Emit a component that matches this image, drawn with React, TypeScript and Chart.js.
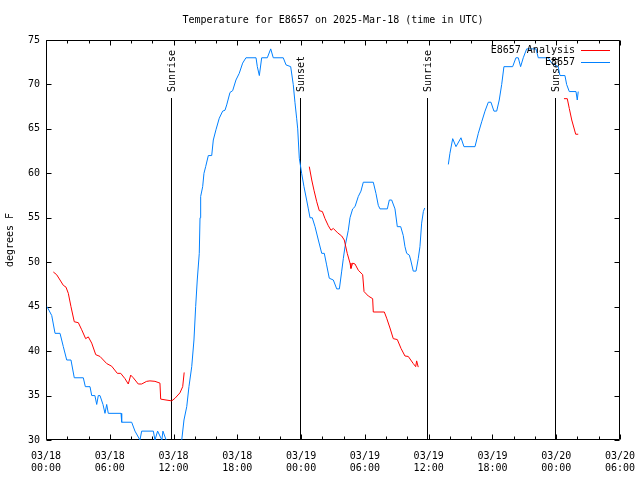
import React, { useEffect, useRef } from 'react';
import { Chart, registerables } from 'chart.js';

Chart.register(...registerables);

const FONT = '"DejaVu Sans Mono", "Liberation Mono", monospace';

const chartTitle = 'Temperature for E8657 on 2025-Mar-18 (time in UTC)';
const yAxisTitle = 'degrees F';

// x axis: hours since 03/18 00:00 UTC
const xTickHours = [0, 6, 12, 18, 24, 30, 36, 42, 48, 54];
const xTickDates = ['03/18', '03/18', '03/18', '03/18', '03/19', '03/19', '03/19', '03/19', '03/20', '03/20'];
const xTickTimes = ['00:00', '06:00', '12:00', '18:00', '00:00', '06:00', '12:00', '18:00', '00:00', '06:00'];
const yTicks = [30, 35, 40, 45, 50, 55, 60, 65, 70, 75];

const sunLabels = ['Sunrise', 'Sunset', 'Sunrise', 'Sunset'];
const sunHours = [11.8, 23.85, 35.84, 47.88];

const seriesNames = ['E8657 Analysis', 'E8657'];
const seriesColors = ['#ff0000', '#0080ff'];

// E8657 observations
const obsHours = [
  0.1, 0.54, 0.85, 1.32, 1.63, 1.95, 2.35, 2.66, 3.51, 3.7, 4.14, 4.3, 4.6, 4.77, 4.92, 5.08, 5.36, 5.55, 5.71, 5.86,
  7.06, 7.12, 8.06, 8.37, 8.84, 9.0, 10.1, 10.25, 10.5, 10.9, 11.0, 11.3, 11.6, 12.3, 12.77, 12.98, 13.24, 13.45, 13.71, 13.92,
  14.08, 14.23, 14.42, 14.49, 14.55, 14.74, 14.86, 15.02, 15.27, 15.59, 15.74, 15.99, 16.3, 16.62, 16.84, 17.0, 17.31, 17.56, 17.87, 18.18,
  18.5, 18.81, 19.76, 19.88, 20.07, 20.29, 20.82, 21.14, 21.38, 22.32, 22.58, 23.02, 23.26, 23.42, 23.58, 23.68, 23.83, 24.05, 24.27, 24.52,
  24.68, 24.84, 25.05, 25.31, 25.62, 25.94, 26.18, 26.4, 26.65, 27.03, 27.35, 27.6, 27.82, 27.97, 28.13, 28.44, 28.6, 28.85, 29.07, 29.38,
  29.63, 29.85, 30.79, 31.04, 31.26, 31.42, 32.11, 32.3, 32.52, 32.83, 33.05, 33.37, 33.61, 33.77, 33.93, 34.18, 34.31, 34.55, 34.81, 35.02,
  35.18, 35.34, 35.5, 35.63, 36.7, 37.85, 38.0, 38.26, 38.57, 39.04, 39.32, 40.36, 40.67, 40.99, 41.3, 41.61, 41.86, 42.14, 42.4, 42.64,
  42.87, 43.08, 43.9, 44.21, 44.43, 44.65, 44.9, 45.22, 46.1, 46.31, 47.25, 47.57, 48.19, 48.35, 48.82, 48.98, 49.23, 49.86, 49.98, 50.07,
];
const obsTemps = [
  45, 44, 42, 42, 40.5, 39, 39, 37, 37, 36, 36, 35, 35, 34, 35, 35, 34, 33, 34, 33,
  33, 32, 32, 31, 30, 31, 31, 30, 31, 30, 31, 30, 29, 28.5, 30, 32.25, 33.75, 36, 38.25, 41.25,
  45, 48, 51, 55, 57.4, 58.5, 60, 60.75, 62, 62, 63.75, 64.9, 66.2, 67, 67.1, 67.7, 69.1, 69.3, 70.5, 71.25,
  72.4, 73, 73, 72, 71, 73, 73, 74, 73, 73, 72.2, 72, 70, 68, 66.2, 65, 61.7, 60, 58.5, 57,
  56, 55, 55, 54, 52.5, 51, 51, 49.7, 48.2, 48, 47, 47, 49, 50.4, 51.75, 53.6, 55, 56, 56.25, 57.4,
  58, 59, 59, 57.75, 56.4, 56, 56, 57, 57, 56, 54, 54, 53, 51.75, 51, 50.8, 50.25, 49, 49, 50.4,
  51.75, 54.4, 55.7, 56.1, null, 61, 62.25, 63.9, 63, 64, 63, 63, 64.5, 65.8, 67, 68, 68, 67, 67, 68.25,
  70, 72, 72, 73, 73, 72, 73, 74, 74, 73, 73, 72.4, 72, 71, 71, 70, 69.2, 69.2, 68.25, 69.2,
];

// E8657 Analysis
const anaHours = [
  0.69, 1.0, 1.32, 1.63, 1.88, 2.1, 2.35, 2.66, 3.04, 3.36, 3.73, 3.98, 4.3, 4.68, 5.08, 5.71, 6.18, 6.71, 7.03, 7.43,
  7.74, 7.97, 8.21, 8.68, 9.0, 9.47, 9.78, 10.25, 10.72, 10.79, 11.29, 11.83, 12.14, 12.6, 12.86, 13.0, 18.0,
  24.77, 25.0, 25.21, 25.47, 25.71, 26.0, 26.25, 26.56, 26.81, 27.03, 27.44, 27.82, 28.06, 28.34, 28.6, 28.69, 28.85, 29.07, 29.38, 29.79,
  29.92, 30.32, 30.73, 30.79, 31.83, 32.05, 32.36, 32.67, 33.05, 33.4, 33.77, 34.08, 34.55, 34.78, 34.87, 35.02, 40.0,
  48.73, 49.04, 49.23, 49.46, 49.67, 49.83, 50.07,
];
const anaTemps = [
  48.9, 48.6, 48.0, 47.4, 47.2, 46.5, 45.0, 43.3, 43.2, 42.4, 41.4, 41.6, 40.9, 39.6, 39.4, 38.6, 38.3, 37.5, 37.5, 36.9,
  36.3, 37.3, 37.0, 36.3, 36.3, 36.6, 36.65, 36.6, 36.4, 34.6, 34.5, 34.4, 34.7, 35.3, 36.0, 37.6, null,
  60.75, 59.25, 58.1, 56.8, 55.8, 55.7, 54.9, 54.1, 53.6, 53.8, 53.3, 52.95, 52.5, 51, 49.9, 49.3, 49.9, 49.8, 49.1, 48.6,
  46.7, 46.2, 45.9, 44.4, 44.4, 43.7, 42.6, 41.4, 41.3, 40.3, 39.45, 39.4, 38.6, 38.25, 38.9, 38.2, null,
  68.4, 68.4, 67.3, 66, 65.1, 64.4, 64.4,
];

const zip = (xs: number[], ys: (number | null)[]) => xs.map((x, i) => ({ x, y: ys[i] }));

const decorPlugin = {
  id: 'gnuplotDecor',
  beforeDatasetsDraw(chart: any) {
    const { ctx, chartArea: a, scales } = chart;
    const xs = scales.x;
    const ys = scales.y;
    ctx.save();
    ctx.strokeStyle = '#000';
    ctx.lineWidth = 1;
    const L = Math.round(a.left) + 0.5;
    const R = Math.round(a.right) - 0.5;
    const T = Math.round(a.top) + 0.5;
    const B = Math.round(a.bottom) - 0.5;
    ctx.beginPath();
    ctx.rect(L, T, R - L, B - T);
    // x ticks: major every 6h, minor every 2h
    for (let h = xs.min; h <= xs.max + 1e-6; h += 2) {
      const px = Math.round(xs.getPixelForValue(h)) + 0.5;
      const len = h % 6 === 0 ? 5 : 3;
      ctx.moveTo(px, B);
      ctx.lineTo(px, B - len);
      ctx.moveTo(px, T);
      ctx.lineTo(px, T + len);
    }
    yTicks.forEach((v) => {
      const py = Math.round(ys.getPixelForValue(v)) + 0.5;
      ctx.moveTo(L, py);
      ctx.lineTo(L + 5, py);
      ctx.moveTo(R, py);
      ctx.lineTo(R - 5, py);
    });
    ctx.stroke();

    // sunrise / sunset markers
    ctx.font = '10px ' + FONT;
    ctx.fillStyle = '#000';
    sunHours.forEach((h, i) => {
      const px = Math.round(xs.getPixelForValue(h)) + 0.5;
      ctx.beginPath();
      ctx.moveTo(px, 98);
      ctx.lineTo(px, B);
      ctx.stroke();
      ctx.save();
      ctx.translate(px + 1, 92);
      ctx.rotate(-Math.PI / 2);
      ctx.textAlign = 'left';
      ctx.textBaseline = 'middle';
      ctx.fillText(sunLabels[i], 0, 0);
      ctx.restore();
    });
    ctx.restore();
  },
  afterDraw(chart: any) {
    const { ctx, chartArea: a } = chart;
    ctx.save();
    ctx.font = '10px ' + FONT;
    ctx.fillStyle = '#000';
    ctx.textAlign = 'center';
    ctx.textBaseline = 'middle';
    ctx.fillText(chartTitle, (a.left + a.right) / 2, 20);
    // key
    ctx.textAlign = 'right';
    seriesNames.forEach((name, i) => {
      const y = 50 + i * 12;
      ctx.fillStyle = '#000';
      ctx.fillText(name, 575, y);
      ctx.strokeStyle = seriesColors[i];
      ctx.lineWidth = 1;
      ctx.beginPath();
      ctx.moveTo(581, y + 0.5);
      ctx.lineTo(610, y + 0.5);
      ctx.stroke();
    });
    ctx.restore();
  },
};

export default function App() {
  const ref = useRef<HTMLCanvasElement>(null);
  useEffect(() => {
    if (!ref.current) return;
    Chart.defaults.font.family = FONT;
    Chart.defaults.font.size = 10;
    Chart.defaults.color = '#000';
    const chart = new Chart(ref.current, {
      type: 'line',
      data: {
        datasets: [
          {
            label: seriesNames[0],
            data: zip(anaHours, anaTemps),
            borderColor: seriesColors[0],
            borderWidth: 1,
            pointRadius: 0,
            tension: 0,
            spanGaps: false,
          },
          {
            label: seriesNames[1],
            data: zip(obsHours, obsTemps),
            borderColor: seriesColors[1],
            borderWidth: 1,
            pointRadius: 0,
            tension: 0,
            spanGaps: false,
          },
        ],
      },
      options: {
        animation: false,
        responsive: false,
        devicePixelRatio: 1,
        layout: { padding: { top: 40, right: 20, left: 0, bottom: 0 } },
        plugins: {
          legend: { display: false },
          tooltip: { enabled: false },
          title: { display: false },
        },
        scales: {
          x: {
            type: 'linear',
            min: 0,
            max: 54,
            grid: { display: false, drawTicks: false },
            border: { display: false },
            ticks: {
              stepSize: 6,
              autoSkip: false,
              maxRotation: 0,
              padding: 10,
              font: { family: FONT, size: 10, lineHeight: 1.2 },
              callback: (v: any) => {
                const i = xTickHours.indexOf(Number(v));
                return i >= 0 ? [xTickDates[i], xTickTimes[i]] : '';
              },
            },
            afterFit: (s: any) => {
              s.height = 40;
              s.paddingLeft = 0;
              s.paddingRight = 0;
            },
          },
          y: {
            min: 30,
            max: 75,
            grid: { display: false, drawTicks: false },
            border: { display: false },
            ticks: {
              stepSize: 5,
              padding: 6,
              font: { family: FONT, size: 10 },
            },
            title: {
              display: true,
              text: yAxisTitle,
              font: { family: FONT, size: 10 },
              padding: { top: 4, bottom: 0 },
            },
            afterFit: (s: any) => {
              s.width = 46;
              s.paddingTop = 0;
              s.paddingBottom = 0;
            },
          },
        },
      },
      plugins: [decorPlugin],
    });
    return () => chart.destroy();
  }, []);
  return (
    <div style={{ position: 'absolute', left: 0, top: 0, width: 640, height: 480, background: '#fff' }}>
      <canvas ref={ref} width={640} height={480} />
    </div>
  );
}
